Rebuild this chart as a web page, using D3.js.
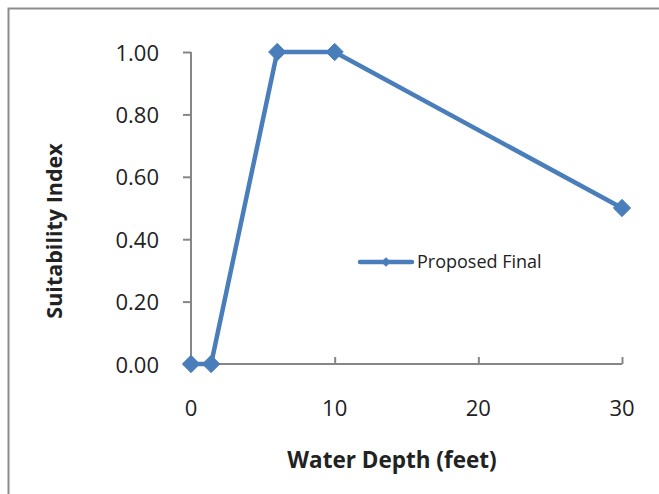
<!DOCTYPE html>
<html><head><meta charset="utf-8">
<script src="https://cdn.jsdelivr.net/npm/d3@7"></script>
<style>body{margin:0;background:#fff}svg{display:block}</style>
</head><body>
<script>
const depth = [0, 1.4, 6, 10, 30];
const suitability = [0, 0, 1, 1, 0.5];
const xTicks = [0, 10, 20, 30];
const yTicks = [0, 0.2, 0.4, 0.6, 0.8, 1.0];
const seriesName = "Proposed Final";
const xTitle = "Water Depth (feet)";
const yTitle = "Suitability Index";

const W = 659, H = 494;
const svg = d3.select("body").append("svg").attr("width", W).attr("height", H);
const font = "'Open Sans', 'Noto Sans', sans-serif";
const color = "#4a7ebb";

svg.append("rect").attr("x", 8.5).attr("y", 8.5).attr("width", 700).attr("height", 600)
  .attr("fill", "none").attr("stroke", "#8c8c8c").attr("stroke-width", 2);

const x = d3.scaleLinear().domain([0, 30]).range([191, 622]);
const y = d3.scaleLinear().domain([0, 1]).range([364, 52]);

const xAxis = svg.append("g").attr("transform", `translate(0,${y(0)})`)
  .call(d3.axisTop(x).tickValues(xTicks).tickSize(7).tickFormat(""));
const yAxis = svg.append("g").attr("transform", `translate(${x(0)},0)`)
  .call(d3.axisLeft(y).tickValues(yTicks).tickSize(8).tickFormat(""));
[xAxis, yAxis].forEach(a => {
  a.selectAll("path,line").attr("stroke", "#868686").attr("stroke-width", 2);
  a.select(".domain").attr("d", null);
});
svg.append("line").attr("x1", x(0)).attr("x2", x(30)).attr("y1", y(0)).attr("y2", y(0))
  .attr("stroke", "#868686").attr("stroke-width", 2);
svg.append("line").attr("x1", x(0)).attr("x2", x(0)).attr("y1", y(1)).attr("y2", y(0))
  .attr("stroke", "#868686").attr("stroke-width", 2);

svg.append("g").selectAll("text").data(xTicks).join("text")
  .attr("x", d => x(d)).attr("y", 416).attr("text-anchor", "middle")
  .attr("font-family", font).attr("font-size", 22).attr("fill", "#222")
  .text(d => d);
svg.append("g").selectAll("text").data(yTicks).join("text")
  .attr("x", 159).attr("y", d => y(d) + 8.5).attr("text-anchor", "end")
  .attr("font-family", font).attr("font-size", 22).attr("fill", "#222")
  .text(d => d.toFixed(2));

svg.append("text").attr("x", 392).attr("y", 468).attr("text-anchor", "middle")
  .attr("font-family", font).attr("font-size", 22.5).attr("font-weight", "bold").attr("fill", "#222")
  .text(xTitle);
svg.append("text").attr("transform", "translate(62,231) rotate(-90)").attr("text-anchor", "middle")
  .attr("font-family", font).attr("font-size", 21.5).attr("font-weight", "bold").attr("fill", "#222")
  .text(yTitle);

const pts = depth.map((d, i) => [d, suitability[i]]);
svg.append("path").datum(pts)
  .attr("d", d3.line().x(d => x(d[0])).y(d => y(d[1])))
  .attr("fill", "none").attr("stroke", color).attr("stroke-width", 4.5).attr("stroke-linejoin", "round");

const diamond = d3.symbol().type(d3.symbolDiamond2).size(190);
svg.append("g").selectAll("path").data(pts).join("path")
  .attr("transform", d => `translate(${x(d[0])},${y(d[1])})`)
  .attr("d", diamond).attr("fill", color).attr("stroke", color).attr("stroke-width", 1);

// legend
svg.append("line").attr("x1", 360).attr("x2", 412).attr("y1", 262).attr("y2", 262)
  .attr("stroke", color).attr("stroke-width", 4.5).attr("stroke-linecap", "round");
svg.append("path").attr("transform", "translate(386,262)")
  .attr("d", d3.symbol().type(d3.symbolDiamond2).size(60)).attr("fill", color);
svg.append("text").attr("x", 417).attr("y", 268)
  .attr("font-family", font).attr("font-size", 18).attr("fill", "#222").text(seriesName);
</script>
</body></html>
